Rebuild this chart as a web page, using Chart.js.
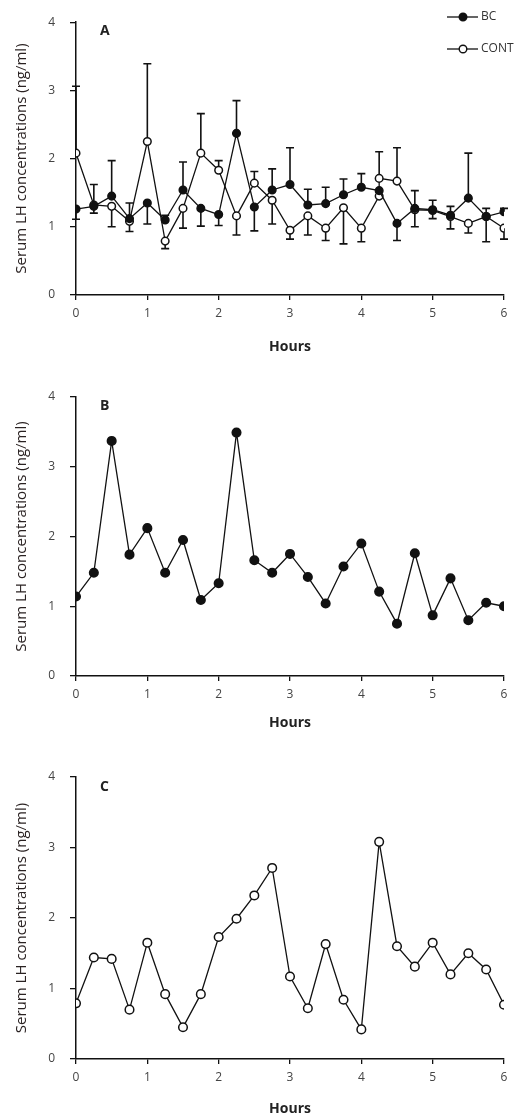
<!DOCTYPE html>
<html>
<head>
<meta charset="utf-8">
<script src="https://cdn.jsdelivr.net/npm/chart.js@4.4.1/dist/chart.umd.min.js"></script>
<style>
  html, body { margin: 0; padding: 0; background: #fff; }
  #wrap { position: relative; width: 531px; height: 1120px; }
  .panel { position: absolute; left: 0; width: 531px; }
</style>
</head>
<body>
<div id="wrap">
  <div class="panel" style="top:0;height:370px"><canvas id="chartA"></canvas></div>
  <div class="panel" style="top:370px;height:375px"><canvas id="chartB"></canvas></div>
  <div class="panel" style="top:745px;height:375px"><canvas id="chartC"></canvas></div>
</div>
<script>
// sampling times (hours)
const HOURS = [0, 0.25, 0.5, 0.75, 1, 1.25, 1.5, 1.75, 2, 2.25, 2.5, 2.75, 3,
               3.25, 3.5, 3.75, 4, 4.25, 4.5, 4.75, 5, 5.25, 5.5, 5.75, 6];
// CONT has two readings drawn at 4.25 h
const HOURS_CONT = [0, 0.25, 0.5, 0.75, 1, 1.25, 1.5, 1.75, 2, 2.25, 2.5, 2.75, 3,
                    3.25, 3.5, 3.75, 4, 4.25, 4.25, 4.5, 4.75, 5, 5.25, 5.5, 5.75, 6];

// panel A: group means + error bars (ng/ml)
const BC_MEAN = [1.26, 1.30, 1.45, 1.12, 1.35, 1.10, 1.54, 1.27, 1.18, 2.37, 1.29, 1.54, 1.62,
                 1.32, 1.34, 1.47, 1.58, 1.53, 1.05, 1.27, 1.25, 1.17, 1.42, 1.15, 1.22];
const BC_UP   = [0, 0.32, 0.52, 0.23, 0, 0.07, 0.41, 0, 0, 0.48, 0, 0.31, 0.54,
                 0.23, 0.24, 0.23, 0.20, 0, 0, 0.26, 0.14, 0.13, 0.66, 0.12, 0.05];
const BC_DN   = [0.15, 0, 0, 0, 0.31, 0, 0, 0.26, 0.16, 0, 0.35, 0, 0,
                 0, 0, 0, 0, 0, 0.25, 0, 0, 0, 0, 0, 0];

const CONT_MEAN = [2.08, 1.32, 1.30, 1.08, 2.25, 0.79, 1.27, 2.08, 1.83, 1.16, 1.64, 1.39, 0.95,
                   1.16, 0.98, 1.28, 0.98, 1.45, 1.71, 1.67, 1.25, 1.24, 1.15, 1.05, 1.15, 0.98];
const CONT_UP   = [0.98, 0, 0, 0, 1.14, 0, 0, 0.58, 0.14, 0, 0.17, 0, 0,
                   0, 0, 0, 0, 0, 0.39, 0.49, 0, 0, 0, 0, 0, 0];
const CONT_DN   = [0, 0.12, 0.30, 0.15, 0, 0.11, 0.29, 0, 0, 0.28, 0, 0.35, 0.13,
                   0.28, 0.18, 0.53, 0.20, 0, 0, 0, 0.25, 0.12, 0.18, 0.14, 0.37, 0.16];

// panel B: individual BC cow, panel C: individual CONT cow
const COW_B = [1.14, 1.48, 3.37, 1.74, 2.12, 1.48, 1.95, 1.09, 1.33, 3.49, 1.66, 1.48, 1.75,
               1.42, 1.04, 1.57, 1.90, 1.21, 0.75, 1.76, 0.87, 1.40, 0.80, 1.05, 1.00];
const COW_C = [0.79, 1.44, 1.42, 0.70, 1.65, 0.92, 0.45, 0.92, 1.73, 1.99, 2.32, 2.71, 1.17,
               0.72, 1.63, 0.84, 0.42, 3.08, 1.60, 1.31, 1.65, 1.20, 1.50, 1.27, 0.77];

const Y_TITLE = 'Serum LH concentrations (ng/ml)';
const X_TITLE = 'Hours';
const FONT = "'Open Sans', 'DejaVu Sans', sans-serif";

function toXY(xs, ys) { return ys.map((y, i) => ({ x: xs[i], y })); }

// error bars drawn under the markers
const errorBars = {
  id: 'errorBars',
  beforeDatasetsDraw(chart) {
    const { ctx, scales: { x, y } } = chart;
    ctx.save();
    ctx.strokeStyle = '#111';
    ctx.lineWidth = 1.6;
    chart.data.datasets.forEach(ds => {
      if (!ds.errUp) return;
      ds.data.forEach((p, i) => {
        const px = x.getPixelForValue(p.x);
        [[ds.errUp[i], 1], [ds.errDn[i], -1]].forEach(([e, dir]) => {
          if (!e) return;
          const y0 = y.getPixelForValue(p.y);
          const y1 = y.getPixelForValue(p.y + dir * e);
          ctx.beginPath();
          ctx.moveTo(px, y0); ctx.lineTo(px, y1);
          ctx.moveTo(px - 4, y1); ctx.lineTo(px + 4, y1);
          ctx.stroke();
        });
      });
    });
    ctx.restore();
  }
};

// panel letter and (for A) the legend
const decorations = {
  id: 'decorations',
  afterDraw(chart, args, opts) {
    const { ctx, chartArea } = chart;
    ctx.save();
    ctx.fillStyle = '#222';
    ctx.font = 'bold 14px ' + FONT;
    ctx.textBaseline = 'middle';
    ctx.fillText(opts.letter, chartArea.left + 24, chartArea.top + opts.letterDy);
    if (opts.legend) {
      ctx.font = '12px ' + FONT;
      chart.data.datasets.forEach((ds, i) => {
        const ly = 17 + i * 32;
        ctx.strokeStyle = '#111';
        ctx.lineWidth = 1.3;
        ctx.beginPath(); ctx.moveTo(447, ly); ctx.lineTo(478, ly); ctx.stroke();
        ctx.beginPath(); ctx.arc(463, ly, 3.8, 0, Math.PI * 2);
        ctx.fillStyle = ds.pointBackgroundColor; ctx.fill();
        ctx.lineWidth = 1.4; ctx.stroke();
        ctx.fillStyle = '#333';
        ctx.fillText(ds.label, 481, ly);
      });
    }
    ctx.restore();
  }
};

function series(label, xs, ys, filled, extra) {
  return Object.assign({
    label,
    data: toXY(xs, ys),
    showLine: true,
    borderColor: '#111',
    borderWidth: 1.3,
    pointRadius: 4,
    pointHoverRadius: 4,
    pointBorderWidth: 1.5,
    pointBorderColor: '#111',
    pointBackgroundColor: filled ? '#111' : '#fff',
    tension: 0,
  }, extra || {});
}

function makePanel(id, datasets, geo) {
  return new Chart(document.getElementById(id), {
    type: 'scatter',
    data: { datasets },
    options: {
      responsive: true,
      maintainAspectRatio: false,
      animation: false,
      layout: { padding: { top: geo.top, right: 27, left: 0, bottom: 0 } },
      plugins: {
        legend: { display: false },
        tooltip: { enabled: false },
        decorations: { letter: geo.letter, letterDy: geo.letterDy, legend: geo.legend },
      },
      scales: {
        x: {
          type: 'linear', min: 0, max: 6,
          afterFit: s => { s.height = geo.xh; },
          border: { color: '#111', width: 1.5 },
          grid: { drawOnChartArea: false, tickLength: 5, color: '#111', lineWidth: 1.3 },
          ticks: { stepSize: 1, padding: 6, color: '#444', font: { family: FONT, size: 12 } },
          title: { display: true, text: X_TITLE, color: '#222',
                   padding: { top: 0, bottom: geo.titlePad },
                   font: { family: FONT, size: 14, weight: 'bold' } },
        },
        y: {
          min: 0, max: 4,
          afterFit: s => { s.width = 76; },
          border: { color: '#111', width: 1.5 },
          grid: { drawOnChartArea: false, tickLength: 6, color: '#111', lineWidth: 1.3 },
          ticks: { stepSize: 1, padding: 15, color: '#444', font: { family: FONT, size: 12 } },
          title: { display: true, text: Y_TITLE, color: '#2a2222',
                   padding: { top: 13, bottom: 0 },
                   font: { family: FONT, size: 15 } },
        },
      },
    },
    plugins: [errorBars, decorations],
  });
}

makePanel('chartA', [
  series('BC', HOURS, BC_MEAN, true, { errUp: BC_UP, errDn: BC_DN, pointRadius: 3.8 }),
  series('CONT', HOURS_CONT, CONT_MEAN, false, { errUp: CONT_UP, errDn: CONT_DN, pointRadius: 3.8 }),
], { top: 16, xh: 75, titlePad: 15, letter: 'A', letterDy: 9, legend: true });

makePanel('chartB', [
  series('BC', HOURS, COW_B, true, { pointRadius: 4.3 }),
], { top: 27, xh: 69, titlePad: 14, letter: 'B', letterDy: 9, legend: false });

makePanel('chartC', [
  series('CONT', HOURS, COW_C, false, { pointRadius: 4.3 }),
], { top: 32, xh: 61, titlePad: 3, letter: 'C', letterDy: 10, legend: false });
</script>
</body>
</html>
